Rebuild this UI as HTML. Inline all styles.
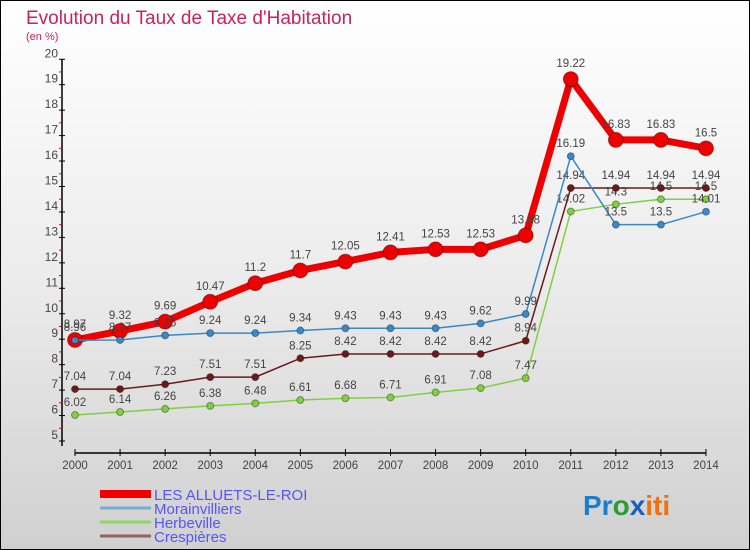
<!DOCTYPE html>
<html><head><meta charset="utf-8"><style>
body{margin:0}
#wrap{width:750px;height:550px;position:relative;box-sizing:border-box;border:1px solid #000;background:linear-gradient(#fff 0%,#ececec 50%,#d0d0d0 100%);font-family:"Liberation Sans",sans-serif;overflow:hidden}
</style></head><body>
<div id="wrap">
<svg id="svg" width="750" height="550" style="position:absolute;left:-1px;top:-1px">
<text x="26" y="24" font-size="19" fill="#c8235a">Evolution du Taux de Taxe d'Habitation</text>
<text x="26" y="40" font-size="11" fill="#c8235a">(en %)</text>
<g id="axes"></g><g id="series"></g><g id="legend"></g>
<text x="583" y="515" font-size="28" font-weight="bold"><tspan fill="#1a7fd0">Pr</tspan><tspan fill="#2a9a3a">o</tspan><tspan fill="#1a5fc0">x</tspan><tspan fill="#f07010">iti</tspan></text>
</svg>
</div>
<script>
const years=["2000","2001","2002","2003","2004","2005","2006","2007","2008","2009","2010","2011","2012","2013","2014"];
const yTicks=[5,6,7,8,9,10,11,12,13,14,15,16,17,18,19,20];
const allu=[8.97,9.32,9.69,10.47,11.2,11.7,12.05,12.41,12.53,12.53,13.08,19.22,16.83,16.83,16.5];
const morain=[8.96,8.97,9.15,9.24,9.24,9.34,9.43,9.43,9.43,9.62,9.99,16.19,13.5,13.5,14.01];
const herb=[6.02,6.14,6.26,6.38,6.48,6.61,6.68,6.71,6.91,7.08,7.47,14.02,14.3,14.5,14.5];
const cresp=[7.04,7.04,7.23,7.51,7.51,8.25,8.42,8.42,8.42,8.42,8.94,14.94,14.94,14.94,14.94];
const NS="http://www.w3.org/2000/svg";
const X=i=>75+i*45.07, Y=v=>441-(v-5)*25.45;
function mk(t,a,p){const e=document.createElementNS(NS,t);for(const k in a)e.setAttribute(k,a[k]);p.appendChild(e);return e;}
const ax=document.getElementById('axes');
let e=mk('line',{x1:62,y1:Y(20),x2:62,y2:446,stroke:'#000','stroke-width':1.5},ax);

e=mk('line',{x1:75,y1:453,x2:706,y2:453,stroke:'#000','stroke-width':1.5},ax);

yTicks.forEach(v=>{
 mk('line',{x1:59,y1:Y(v),x2:65,y2:Y(v),stroke:'#000'},ax);
 if(v<20)mk('line',{x1:59,y1:Y(v+0.5),x2:62,y2:Y(v+0.5),stroke:'#e00'},ax);
 const t=mk('text',{x:58,y:Y(v)-2,'font-size':12,fill:'#444','text-anchor':'end'},ax);t.textContent=v;
 
});
years.forEach((y,i)=>{
 mk('line',{x1:X(i),y1:449,x2:X(i),y2:456,stroke:'#000'},ax);
 const t=mk('text',{x:X(i),y:469,'font-size':11.5,fill:'#444','text-anchor':'middle'},ax);t.textContent=y;
 
});
const sg=document.getElementById('series');
function series(d,col,w,r,name){
 const g=mk('g',{},sg);
 
 mk('polyline',{points:d.map((v,i)=>X(i)+','+Y(v)).join(' '),fill:'none',stroke:col,'stroke-width':w,'stroke-linejoin':'round'},g);
 d.forEach((v,i)=>{
  const c=mk('circle',{cx:X(i),cy:Y(v),r:r,fill:col,stroke:'rgba(0,0,0,0.35)','stroke-width':1},g);
  
  const t=mk('text',{x:X(i),y:Y(v)-9-(r>5?3:0),'font-size':11.5,fill:'#444','text-anchor':'middle'},g);t.textContent=v;
  
 });
}
series(herb,'#7fd040',1.5,3.5,'series-herbeville');
series(cresp,'#6b1a1a',1.5,3.5,'series-crespieres');
series(allu,'#ee0000',7,7.5,'series-les-alluets-le-roi');
series(morain,'#3a88c8',1.5,3.5,'series-morainvilliers');
const lg=document.getElementById('legend');
[['LES ALLUETS-LE-ROI','#ee0000',8],['Morainvilliers','#7aaad0',3],['Herbeville','#90d860',3],['Crespières','#9a6060',3]].forEach((s,i)=>{
 const y=494+i*14;
 const g=mk('g',{},lg);
 mk('line',{x1:100,y1:y,x2:151,y2:y,stroke:s[1],'stroke-width':s[2]},g);
 const t=mk('text',{x:154,y:y+6,'font-size':15,fill:'#5555ff'},g);t.textContent=s[0];
});
</script>
</body></html>
